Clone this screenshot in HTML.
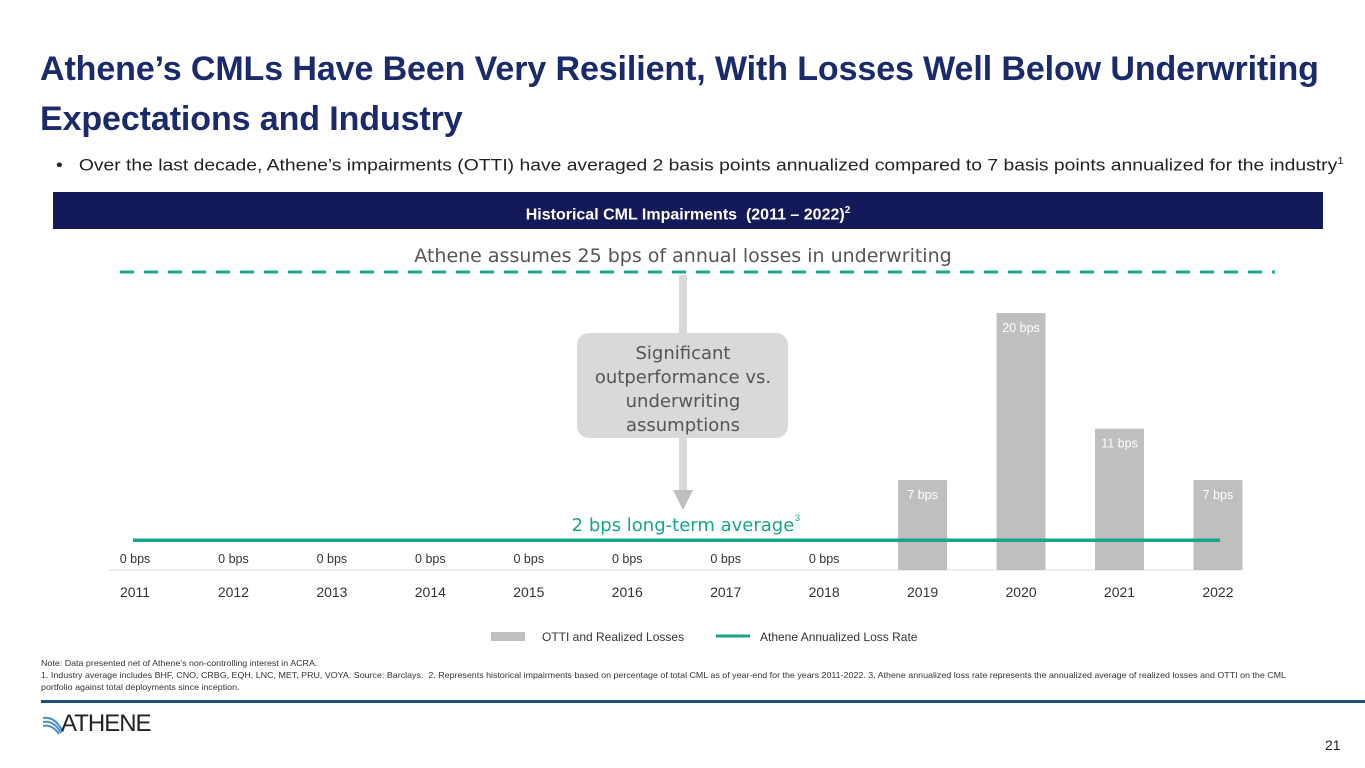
<!DOCTYPE html>
<html><head><meta charset="utf-8"><style>
body{margin:0;width:1365px;height:768px;background:#fff;font-family:"Liberation Sans",sans-serif;overflow:hidden;position:relative}
.t{position:absolute;white-space:nowrap}
</style></head><body>
<div class="t" style="left:40px;top:44px;font-size:34px;font-weight:bold;color:#1b2a6b;line-height:50px;letter-spacing:-0.1px">Athene’s CMLs Have Been Very Resilient, With Losses Well Below Underwriting<br>Expectations and Industry</div>
<div class="t" style="left:56px;top:156px;font-size:16.5px;color:#222"><span style="display:inline-block;transform:scaleX(1.17);transform-origin:0 0">•&nbsp;&nbsp;&nbsp;Over the last decade, Athene’s impairments (OTTI) have averaged 2 basis points annualized compared to 7 basis points annualized for the industry<sup style="font-size:10px">1</sup></span></div>
<div style="position:absolute;left:53px;top:192px;width:1270px;height:37px;background:#14195a;color:#fff;font-weight:bold;font-size:16px;text-align:center;line-height:37px">Historical CML Impairments&nbsp; (2011 – 2022)<sup style="font-size:10px">2</sup></div>
<svg id="chart" width="1365" height="768" style="position:absolute;left:0;top:0"></svg>
<div class="t" style="left:41px;top:657px;font-size:8.5px;color:#333;line-height:12px"><span style="display:inline-block;transform:scaleX(1.045);transform-origin:0 0">Note: Data presented net of Athene’s non-controlling interest in ACRA.<br>1. Industry average includes BHF, CNO, CRBG, EQH, LNC, MET, PRU, VOYA. Source: Barclays.&nbsp; 2. Represents historical impairments based on percentage of total CML as of year-end for the years 2011-2022. 3. Athene annualized loss rate represents the annualized average of realized losses and OTTI on the CML<br>portfolio against total deployments since inception.</span></div>
<div style="position:absolute;left:41px;top:700px;width:1324px;height:3px;background:#1f4e79"></div>
<div style="position:absolute;left:41px;top:712px;height:24px">
<svg width="24" height="22" style="position:absolute;left:0;top:2px"><path d="M2 4 Q14 2 22 18" stroke="#4a8fc7" stroke-width="2" fill="none"/><path d="M2 8 Q13 6 20 19" stroke="#4a8fc7" stroke-width="2" fill="none"/><path d="M2 12 Q11 10 18 20" stroke="#4a8fc7" stroke-width="2" fill="none"/></svg>
<span class="t" style="left:20px;top:-2px;font-size:24px;color:#222;letter-spacing:-1px">ATHENE</span></div>
<div class="t" style="left:1325px;top:737px;font-size:14px;color:#222">21</div>
<script>
const years=["2011","2012","2013","2014","2015","2016","2017","2018","2019","2020","2021","2022"];
const losses=[0,0,0,0,0,0,0,0,7,20,11,7];
const valueLabels=["0 bps","0 bps","0 bps","0 bps","0 bps","0 bps","0 bps","0 bps","7 bps","20 bps","11 bps","7 bps"];
const avgRate=[2];
const underwriting=[25];
const svg=document.getElementById('chart');const NS='http://www.w3.org/2000/svg';
const base=570,ppb=12.85,x0=135,step=98.45,bw=49;
const xs=i=>x0+i*step, ys=v=>base-v*ppb;
const yu=v=>272-(v-25)*ppb;
function mk(t,a,txt){const e=document.createElementNS(NS,t);for(const k in a)e.setAttribute(k,a[k]);if(txt!=null)e.textContent=txt;svg.appendChild(e);return e;}
let e=mk('line',{x1:120,x2:1275,y1:yu(underwriting[0]),y2:yu(underwriting[0]),stroke:'#1aa88a','stroke-width':3,'stroke-dasharray':'14 10'});

e=mk('text',{x:683,y:262,'text-anchor':'middle','font-size':19,fill:'#555','font-family':'DejaVu Sans, sans-serif'},'Athene assumes 25 bps of annual losses in underwriting');

e=mk('line',{x1:108,x2:1240,y1:base,y2:base,stroke:'#ddd','stroke-width':1});

years.forEach((y,i)=>{
 const v=losses[i];
 if(v>0){e=mk('rect',{x:xs(i)-bw/2,y:ys(v),width:bw,height:base-ys(v),fill:'#bfbfbf'});
 
 e=mk('text',{x:xs(i),y:ys(v)+19,'text-anchor':'middle','font-size':12.5,fill:'#fff'},valueLabels[i]);}
 else e=mk('text',{x:xs(i),y:base-7,'text-anchor':'middle','font-size':12.5,fill:'#333'},valueLabels[i]);
 
 e=mk('text',{x:xs(i),y:597,'text-anchor':'middle','font-size':14,fill:'#333'},y);
 
});
e=mk('line',{x1:xs(0)-2,x2:xs(11)+2,y1:ys(avgRate[0])-4,y2:ys(avgRate[0])-4,stroke:'#17a589','stroke-width':3.5});

e=mk('text',{x:683,y:531,'text-anchor':'middle','font-size':18,fill:'#17a589','font-family':'DejaVu Sans, sans-serif'},'2 bps long-term average');

mk('text',{x:795,y:521,'font-size':9,fill:'#17a589'},'3');
e=mk('rect',{x:679,y:275,width:8,height:222,fill:'#d9d9d9'});

e=mk('polygon',{points:'673,490 693,490 683,510',fill:'#bfbfbf'});

e=mk('rect',{x:577,y:333,width:211,height:105,rx:12,fill:'#d9d9d9'});

['Significant','outperformance vs.','underwriting','assumptions'].forEach((s,i)=>{
 e=mk('text',{x:683,y:359+i*24,'text-anchor':'middle','font-size':18,fill:'#555','font-family':'DejaVu Sans, sans-serif'},s);
 });
e=mk('rect',{x:491,y:632,width:34,height:9,fill:'#bfbfbf'});

e=mk('text',{x:542,y:641,'font-size':12,fill:'#333'},'OTTI and Realized Losses');

e=mk('line',{x1:716,x2:750,y1:636,y2:636,stroke:'#17a589','stroke-width':3});

e=mk('text',{x:760,y:641,'font-size':12,fill:'#333'},'Athene Annualized Loss Rate');

</script>
</body></html>
